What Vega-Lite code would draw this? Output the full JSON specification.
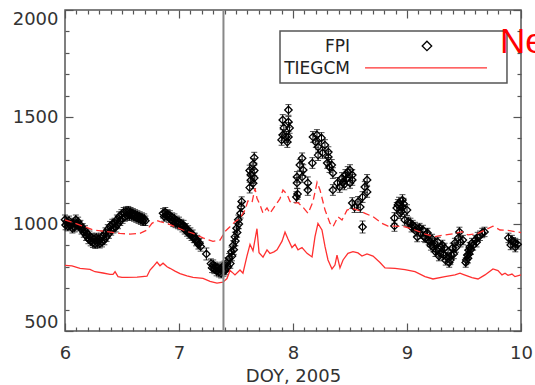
{
"$schema": "https://vega.github.io/schema/vega-lite/v6.json",
"width": 456, "height": 321,
"autosize": {"type": "none"},
"padding": {"left": 65, "top": 10, "right": 14, "bottom": 54},
"background": "white",
"config": {"view": {"stroke": "#555", "strokeWidth": 1.5}, "font": "DejaVu Sans"},
"datasets": {
"fpi": [
{"x":6.000,"y":1020,"e":22},{"x":6.005,"y":995,"e":22},{"x":6.015,"y":1010,"e":22},{"x":6.025,"y":990,"e":22},{"x":6.035,"y":1015,"e":22},{"x":6.045,"y":995,"e":22},{"x":6.055,"y":1000,"e":22},{"x":6.065,"y":980,"e":22},{"x":6.075,"y":1005,"e":22},{"x":6.085,"y":985,"e":22},{"x":6.095,"y":1020,"e":22},{"x":6.105,"y":1000,"e":22},{"x":6.115,"y":1010,"e":22},{"x":6.125,"y":990,"e":22},{"x":6.135,"y":995,"e":22},{"x":6.145,"y":975,"e":22},{"x":6.155,"y":980,"e":22},{"x":6.165,"y":960,"e":22},{"x":6.175,"y":970,"e":22},{"x":6.185,"y":945,"e":22},{"x":6.195,"y":955,"e":22},{"x":6.205,"y":930,"e":22},{"x":6.215,"y":945,"e":22},{"x":6.225,"y":920,"e":22},{"x":6.235,"y":935,"e":22},{"x":6.245,"y":912,"e":22},{"x":6.255,"y":930,"e":22},{"x":6.265,"y":908,"e":22},{"x":6.275,"y":935,"e":22},{"x":6.285,"y":912,"e":22},{"x":6.295,"y":930,"e":22},{"x":6.305,"y":910,"e":22},{"x":6.315,"y":935,"e":22},{"x":6.325,"y":915,"e":22},{"x":6.335,"y":945,"e":22},{"x":6.345,"y":925,"e":22},{"x":6.355,"y":960,"e":22},{"x":6.365,"y":940,"e":22},{"x":6.375,"y":975,"e":22},{"x":6.385,"y":955,"e":22},{"x":6.395,"y":990,"e":22},{"x":6.405,"y":970,"e":22},{"x":6.415,"y":1000,"e":22},{"x":6.425,"y":980,"e":22},{"x":6.435,"y":1005,"e":22},{"x":6.445,"y":985,"e":22},{"x":6.455,"y":1020,"e":22},{"x":6.465,"y":1000,"e":22},{"x":6.475,"y":1035,"e":22},{"x":6.485,"y":1015,"e":22},{"x":6.495,"y":1045,"e":22},{"x":6.505,"y":1025,"e":22},{"x":6.515,"y":1055,"e":22},{"x":6.525,"y":1035,"e":22},{"x":6.535,"y":1058,"e":22},{"x":6.545,"y":1040,"e":22},{"x":6.555,"y":1060,"e":22},{"x":6.565,"y":1040,"e":22},{"x":6.575,"y":1055,"e":22},{"x":6.585,"y":1040,"e":22},{"x":6.595,"y":1050,"e":22},{"x":6.605,"y":1035,"e":22},{"x":6.615,"y":1045,"e":22},{"x":6.625,"y":1030,"e":22},{"x":6.635,"y":1040,"e":22},{"x":6.645,"y":1025,"e":22},{"x":6.655,"y":1035,"e":22},{"x":6.665,"y":1020,"e":22},{"x":6.675,"y":1030,"e":22},{"x":6.685,"y":1015,"e":22},{"x":6.695,"y":1025,"e":22},{"x":6.705,"y":1015,"e":22},
{"x":6.860,"y":1050,"e":22},{"x":6.870,"y":1035,"e":22},{"x":6.880,"y":1055,"e":22},{"x":6.890,"y":1040,"e":22},{"x":6.900,"y":1045,"e":22},{"x":6.910,"y":1030,"e":22},{"x":6.920,"y":1040,"e":22},{"x":6.930,"y":1020,"e":22},{"x":6.940,"y":1030,"e":22},{"x":6.950,"y":1010,"e":22},{"x":6.960,"y":1025,"e":22},{"x":6.970,"y":1005,"e":22},{"x":6.980,"y":1015,"e":22},{"x":6.990,"y":1000,"e":22},{"x":7.000,"y":1010,"e":22},{"x":7.010,"y":995,"e":22},{"x":7.020,"y":1000,"e":22},{"x":7.030,"y":985,"e":22},{"x":7.040,"y":995,"e":22},{"x":7.050,"y":975,"e":22},{"x":7.060,"y":980,"e":22},{"x":7.070,"y":965,"e":22},{"x":7.080,"y":970,"e":22},{"x":7.090,"y":955,"e":22},{"x":7.100,"y":960,"e":22},{"x":7.110,"y":945,"e":22},{"x":7.120,"y":950,"e":22},{"x":7.130,"y":935,"e":22},{"x":7.140,"y":935,"e":22},{"x":7.150,"y":920,"e":22},{"x":7.160,"y":925,"e":22},{"x":7.170,"y":905,"e":22},{"x":7.180,"y":910,"e":22},{"x":7.190,"y":895,"e":22},
{"x":7.240,"y":860,"e":28},
{"x":7.280,"y":815,"e":22},{"x":7.290,"y":795,"e":22},{"x":7.300,"y":810,"e":22},{"x":7.310,"y":790,"e":22},{"x":7.320,"y":800,"e":22},{"x":7.330,"y":780,"e":22},{"x":7.340,"y":795,"e":22},{"x":7.350,"y":775,"e":22},{"x":7.360,"y":790,"e":22},{"x":7.370,"y":770,"e":22},{"x":7.380,"y":800,"e":22},{"x":7.390,"y":778,"e":22},{"x":7.400,"y":805,"e":22},{"x":7.410,"y":785,"e":22},{"x":7.420,"y":820,"e":22},{"x":7.430,"y":800,"e":22},{"x":7.440,"y":840,"e":22},{"x":7.450,"y":815,"e":22},{"x":7.460,"y":870,"e":22},{"x":7.465,"y":850,"e":22},{"x":7.475,"y":900,"e":22},{"x":7.480,"y":880,"e":22},{"x":7.490,"y":940,"e":22},{"x":7.495,"y":920,"e":22},{"x":7.505,"y":980,"e":22},{"x":7.510,"y":960,"e":22},{"x":7.520,"y":1020,"e":22},{"x":7.525,"y":1000,"e":22},{"x":7.540,"y":1050,"e":22},{"x":7.545,"y":1080,"e":22},{"x":7.550,"y":1105,"e":22},
{"x":7.66,"y":1310,"e":25},{"x":7.65,"y":1280,"e":25},{"x":7.62,"y":1250,"e":25},{"x":7.66,"y":1250,"e":25},{"x":7.63,"y":1230,"e":25},{"x":7.66,"y":1215,"e":25},{"x":7.63,"y":1205,"e":25},{"x":7.65,"y":1190,"e":25},{"x":7.62,"y":1170,"e":25},
{"x":7.96,"y":1533,"e":25},{"x":7.91,"y":1486,"e":25},{"x":7.96,"y":1477,"e":25},{"x":7.92,"y":1449,"e":25},{"x":7.97,"y":1449,"e":25},{"x":7.91,"y":1416,"e":25},{"x":7.94,"y":1407,"e":25},{"x":7.96,"y":1407,"e":25},{"x":7.90,"y":1393,"e":25},{"x":7.95,"y":1383,"e":25},
{"x":8.08,"y":1307,"e":25},{"x":8.06,"y":1276,"e":25},{"x":8.09,"y":1252,"e":25},{"x":8.035,"y":1220,"e":25},{"x":8.08,"y":1220,"e":25},{"x":8.035,"y":1192,"e":25},{"x":8.04,"y":1140,"e":25},{"x":8.03,"y":1126,"e":25},{"x":8.13,"y":1192,"e":28},{"x":8.13,"y":1159,"e":25},
{"x":8.175,"y":1407,"e":25},{"x":8.21,"y":1416,"e":25},{"x":8.25,"y":1402,"e":25},{"x":8.20,"y":1383,"e":25},{"x":8.28,"y":1369,"e":25},{"x":8.22,"y":1360,"e":25},{"x":8.31,"y":1336,"e":25},{"x":8.26,"y":1332,"e":25},{"x":8.22,"y":1322,"e":25},{"x":8.31,"y":1313,"e":25},{"x":8.30,"y":1285,"e":25},{"x":8.17,"y":1285,"e":25},{"x":8.32,"y":1266,"e":25},{"x":8.34,"y":1276,"e":25},{"x":8.35,"y":1238,"e":25},{"x":8.35,"y":1159,"e":25},
{"x":8.39,"y":1192,"e":25},{"x":8.41,"y":1173,"e":25},{"x":8.43,"y":1215,"e":25},{"x":8.44,"y":1196,"e":25},{"x":8.46,"y":1229,"e":25},{"x":8.48,"y":1243,"e":25},{"x":8.50,"y":1252,"e":25},{"x":8.52,"y":1229,"e":25},{"x":8.52,"y":1206,"e":25},{"x":8.50,"y":1192,"e":25},{"x":8.47,"y":1210,"e":25},{"x":8.45,"y":1185,"e":25},
{"x":8.52,"y":1098,"e":25},{"x":8.54,"y":1079,"e":25},{"x":8.57,"y":1103,"e":25},{"x":8.59,"y":1079,"e":25},{"x":8.61,"y":1126,"e":25},{"x":8.63,"y":1173,"e":25},{"x":8.65,"y":1150,"e":25},{"x":8.65,"y":1206,"e":25},{"x":8.61,"y":986,"e":28},
{"x":8.96,"y":1112,"e":25},{"x":8.92,"y":1089,"e":25},{"x":8.96,"y":1079,"e":25},{"x":9.00,"y":1065,"e":25},{"x":8.91,"y":1075,"e":25},{"x":8.94,"y":1051,"e":25},{"x":8.89,"y":1028,"e":25},{"x":8.89,"y":991,"e":25},{"x":8.98,"y":1019,"e":25},{"x":8.93,"y":1100,"e":25},{"x":8.97,"y":1095,"e":25},{"x":8.95,"y":1060,"e":25},
{"x":9.01,"y":1010,"e":22},{"x":9.03,"y":1005,"e":22},{"x":9.04,"y":985,"e":22},{"x":9.05,"y":995,"e":22},{"x":9.07,"y":986,"e":22},{"x":9.08,"y":965,"e":22},{"x":9.09,"y":939,"e":22},{"x":9.10,"y":975,"e":22},{"x":9.11,"y":981,"e":22},{"x":9.12,"y":955,"e":22},{"x":9.14,"y":972,"e":22},{"x":9.15,"y":940,"e":22},{"x":9.16,"y":935,"e":22},{"x":9.17,"y":955,"e":22},{"x":9.18,"y":958,"e":22},{"x":9.19,"y":925,"e":22},{"x":9.20,"y":916,"e":22},{"x":9.21,"y":900,"e":22},{"x":9.22,"y":930,"e":22},{"x":9.23,"y":892,"e":22},{"x":9.24,"y":910,"e":22},{"x":9.25,"y":870,"e":22},{"x":9.26,"y":878,"e":22},{"x":9.27,"y":916,"e":22},{"x":9.28,"y":850,"e":22},{"x":9.29,"y":864,"e":22},{"x":9.30,"y":890,"e":22},{"x":9.31,"y":902,"e":22},{"x":9.32,"y":855,"e":22},{"x":9.33,"y":888,"e":22},{"x":9.34,"y":830,"e":22},{"x":9.35,"y":846,"e":22},{"x":9.36,"y":870,"e":22},{"x":9.37,"y":820,"e":22},{"x":9.38,"y":832,"e":22},{"x":9.39,"y":855,"e":22},{"x":9.40,"y":888,"e":22},{"x":9.41,"y":860,"e":22},{"x":9.42,"y":911,"e":22},{"x":9.43,"y":890,"e":22},{"x":9.45,"y":935,"e":22},{"x":9.46,"y":963,"e":22},{"x":9.47,"y":915,"e":22},{"x":9.49,"y":925,"e":22},
{"x":9.515,"y":820,"e":22},{"x":9.52,"y":832,"e":22},{"x":9.53,"y":855,"e":22},{"x":9.535,"y":840,"e":22},{"x":9.54,"y":878,"e":22},{"x":9.545,"y":860,"e":22},{"x":9.55,"y":892,"e":22},{"x":9.56,"y":880,"e":22},{"x":9.57,"y":911,"e":22},{"x":9.58,"y":900,"e":22},{"x":9.60,"y":925,"e":22},{"x":9.61,"y":915,"e":22},{"x":9.62,"y":939,"e":22},{"x":9.64,"y":945,"e":22},{"x":9.66,"y":958,"e":22},{"x":9.68,"y":963,"e":22},
{"x":9.89,"y":935,"e":22},{"x":9.91,"y":902,"e":22},{"x":9.92,"y":925,"e":22},{"x":9.93,"y":915,"e":22},{"x":9.95,"y":911,"e":22},{"x":9.95,"y":892,"e":22},{"x":9.97,"y":905,"e":22}
],
"tie": [
{"x":6.000,"y":807},{"x":6.061,"y":804},{"x":6.132,"y":793},{"x":6.219,"y":788},{"x":6.263,"y":777},{"x":6.333,"y":771},{"x":6.395,"y":765},{"x":6.421,"y":765},{"x":6.439,"y":777},{"x":6.465,"y":754},{"x":6.500,"y":751},{"x":6.544,"y":751},{"x":6.632,"y":752},{"x":6.719,"y":756},{"x":6.746,"y":785},{"x":6.772,"y":800},{"x":6.807,"y":822},{"x":6.833,"y":805},{"x":6.860,"y":817},{"x":6.895,"y":800},{"x":6.921,"y":793},{"x":6.965,"y":780},{"x":7.009,"y":768},{"x":7.070,"y":758},{"x":7.123,"y":751},{"x":7.211,"y":746},{"x":7.272,"y":732},{"x":7.333,"y":724},{"x":7.386,"y":728},{"x":7.421,"y":745},{"x":7.447,"y":783},{"x":7.465,"y":775},{"x":7.491,"y":762},{"x":7.535,"y":785},{"x":7.561,"y":770},{"x":7.596,"y":850},{"x":7.623,"y":905},{"x":7.649,"y":875},{"x":7.684,"y":978},{"x":7.702,"y":866},{"x":7.737,"y":845},{"x":7.772,"y":879},{"x":7.798,"y":862},{"x":7.833,"y":870},{"x":7.860,"y":879},{"x":7.904,"y":920},{"x":7.930,"y":962},{"x":7.956,"y":930},{"x":7.991,"y":890},{"x":8.018,"y":905},{"x":8.044,"y":879},{"x":8.079,"y":890},{"x":8.123,"y":863},{"x":8.167,"y":846},{"x":8.193,"y":941},{"x":8.219,"y":1003},{"x":8.254,"y":972},{"x":8.281,"y":894},{"x":8.307,"y":832},{"x":8.342,"y":790},{"x":8.368,"y":808},{"x":8.386,"y":855},{"x":8.412,"y":795},{"x":8.439,"y":832},{"x":8.482,"y":863},{"x":8.526,"y":871},{"x":8.570,"y":865},{"x":8.605,"y":850},{"x":8.649,"y":860},{"x":8.702,"y":850},{"x":8.763,"y":820},{"x":8.807,"y":795},{"x":8.895,"y":793},{"x":8.982,"y":787},{"x":9.070,"y":777},{"x":9.158,"y":754},{"x":9.228,"y":743},{"x":9.333,"y":754},{"x":9.421,"y":762},{"x":9.465,"y":770},{"x":9.491,"y":765},{"x":9.570,"y":749},{"x":9.623,"y":743},{"x":9.684,"y":762},{"x":9.754,"y":790},{"x":9.798,"y":782},{"x":9.833,"y":762},{"x":9.860,"y":770},{"x":9.886,"y":760},{"x":9.921,"y":766},{"x":9.947,"y":754},{"x":10.0,"y":762}
],
"dash": [
{"x":6.000,"y":1019},{"x":6.132,"y":995},{"x":6.246,"y":972},{"x":6.368,"y":965},{"x":6.482,"y":956},{"x":6.570,"y":953},{"x":6.658,"y":956},{"x":6.719,"y":972},{"x":6.763,"y":1003},{"x":6.807,"y":1016},{"x":6.833,"y":1011},{"x":6.895,"y":1003},{"x":6.965,"y":987},{"x":7.035,"y":972},{"x":7.123,"y":956},{"x":7.211,"y":935},{"x":7.298,"y":919},{"x":7.360,"y":925},{"x":7.404,"y":965},{"x":7.447,"y":987},{"x":7.491,"y":1011},{"x":7.535,"y":1026},{"x":7.579,"y":1065},{"x":7.605,"y":1108},{"x":7.640,"y":1100},{"x":7.667,"y":1167},{"x":7.684,"y":1120},{"x":7.711,"y":1089},{"x":7.737,"y":1050},{"x":7.772,"y":1075},{"x":7.798,"y":1050},{"x":7.842,"y":1085},{"x":7.886,"y":1118},{"x":7.912,"y":1159},{"x":7.947,"y":1140},{"x":7.974,"y":1105},{"x":8.0,"y":1096},{"x":8.044,"y":1100},{"x":8.088,"y":1078},{"x":8.132,"y":1050},{"x":8.175,"y":1104},{"x":8.211,"y":1195},{"x":8.237,"y":1159},{"x":8.281,"y":1065},{"x":8.325,"y":1003},{"x":8.351,"y":987},{"x":8.395,"y":1034},{"x":8.430,"y":1019},{"x":8.474,"y":1065},{"x":8.518,"y":1073},{"x":8.570,"y":1065},{"x":8.632,"y":1050},{"x":8.702,"y":1034},{"x":8.781,"y":1003},{"x":8.833,"y":990},{"x":8.895,"y":990},{"x":8.982,"y":987},{"x":9.070,"y":972},{"x":9.158,"y":953},{"x":9.246,"y":941},{"x":9.333,"y":949},{"x":9.421,"y":956},{"x":9.482,"y":964},{"x":9.535,"y":949},{"x":9.623,"y":956},{"x":9.684,"y":972},{"x":9.754,"y":990},{"x":9.816,"y":972},{"x":9.886,"y":970},{"x":9.947,"y":964},{"x":10.0,"y":960}
]
},
"layer": [
{
"data": {"name": "fpi"},
"mark": {"type": "errorbar", "orient": "vertical", "ticks": true, "color": "#000", "thickness": 1, "size": 6},
"encoding": {
"x": {"field": "x", "type": "quantitative", "scale": {"domain": [6, 10], "nice": false, "zero": false}, "axis": null},
"y": {"field": "y", "type": "quantitative", "scale": {"domain": [500, 2000], "nice": false, "zero": false}, "axis": null},
"yError": {"field": "e"}
}
},
{
"data": {"name": "fpi"},
"mark": {"type": "point", "shape": "diamond", "size": 55, "filled": false, "stroke": "#000", "strokeWidth": 1.3, "opacity": 1},
"encoding": {
"x": {"field": "x", "type": "quantitative", "scale": {"domain": [6, 10], "nice": false, "zero": false},
"axis": {"orient": "bottom", "values": [6, 7, 8, 9, 10], "format": "d",
"tickSize": -8, "tickColor": "#555", "tickWidth": 1.2, "domain": false, "grid": false,
"labelFont": "DejaVu Sans", "labelFontSize": 18, "labelColor": "#333", "labelPadding": 21, "labelFlush": false, "labelOverlap": false, "labelBound": false,
"title": "DOY, 2005", "titleFont": "DejaVu Sans", "titleFontSize": 18, "titleFontWeight": "normal", "titleColor": "#333", "titlePadding": 5}},
"y": {"field": "y", "type": "quantitative", "scale": {"domain": [500, 2000], "nice": false, "zero": false},
"axis": {"orient": "left", "values": [500, 1000, 1500, 2000], "format": "d",
"tickSize": -8, "tickColor": "#555", "tickWidth": 1.2, "domain": false, "grid": false,
"labelFont": "DejaVu Sans", "labelFontSize": 18, "labelColor": "#333", "labelPadding": 15, "labelFlush": true, "labelOverlap": false, "labelBound": false,
"title": null}}
}
},
{
"data": {"name": "tie"},
"mark": {"type": "line", "color": "#ff3030", "strokeWidth": 1.3},
"encoding": {
"x": {"field": "x", "type": "quantitative",
"axis": {"orient": "bottom", "values": [6.1,6.2,6.3,6.4,6.5,6.6,6.7,6.8,6.9,7.1,7.2,7.3,7.4,7.5,7.6,7.7,7.8,7.9,8.1,8.2,8.3,8.4,8.5,8.6,8.7,8.8,8.9,9.1,9.2,9.3,9.4,9.5,9.6,9.7,9.8,9.9],
"labels": false, "tickSize": -4, "tickColor": "#555", "tickWidth": 1.2, "domain": false, "grid": false, "title": null}},
"y": {"field": "y", "type": "quantitative",
"axis": {"orient": "left", "values": [600,700,800,900,1100,1200,1300,1400,1600,1700,1800,1900],
"labels": false, "tickSize": -4, "tickColor": "#555", "tickWidth": 1.2, "domain": false, "grid": false, "title": null}}
}
},
{
"data": {"name": "dash"},
"mark": {"type": "line", "color": "#ff3030", "strokeWidth": 1.3, "strokeDash": [7, 4]},
"encoding": {
"x": {"field": "x", "type": "quantitative",
"axis": {"orient": "top", "values": [6, 7, 8, 9, 10],
"labels": false, "tickSize": -8, "tickColor": "#555", "tickWidth": 1.2, "domain": false, "grid": false, "title": null}},
"y": {"field": "y", "type": "quantitative",
"axis": {"orient": "right", "values": [500, 1000, 1500, 2000],
"labels": false, "tickSize": -8, "tickColor": "#555", "tickWidth": 1.2, "domain": false, "grid": false, "title": null}}
}
},
{
"data": {"values": [{}]},
"mark": {"type": "rect", "filled": false, "stroke": "#555", "strokeWidth": 1.5},
"encoding": {
"x": {"datum": 7.886, "type": "quantitative",
"axis": {"orient": "top", "values": [6.1,6.2,6.3,6.4,6.5,6.6,6.7,6.8,6.9,7.1,7.2,7.3,7.4,7.5,7.6,7.7,7.8,7.9,8.1,8.2,8.3,8.4,8.5,8.6,8.7,8.8,8.9,9.1,9.2,9.3,9.4,9.5,9.6,9.7,9.8,9.9],
"labels": false, "tickSize": -4, "tickColor": "#555", "tickWidth": 1.2, "domain": false, "grid": false, "title": null}},
"x2": {"datum": 9.877},
"y": {"datum": 1659, "type": "quantitative",
"axis": {"orient": "right", "values": [600,700,800,900,1100,1200,1300,1400,1600,1700,1800,1900],
"labels": false, "tickSize": -4, "tickColor": "#555", "tickWidth": 1.2, "domain": false, "grid": false, "title": null}},
"y2": {"datum": 1902}
}
},
{
"data": {"values": [{}]},
"mark": {"type": "text", "text": "FPI", "font": "DejaVu Sans", "fontSize": 17, "color": "#222", "align": "right", "baseline": "alphabetic"},
"encoding": {
"x": {"datum": 8.5, "type": "quantitative", "axis": null},
"y": {"datum": 1804, "type": "quantitative", "axis": null}
}
},
{
"data": {"values": [{}]},
"mark": {"type": "text", "text": "TIEGCM", "font": "DejaVu Sans", "fontSize": 17, "color": "#222", "align": "right", "baseline": "alphabetic"},
"encoding": {
"x": {"datum": 8.5, "type": "quantitative", "axis": null},
"y": {"datum": 1701, "type": "quantitative", "axis": null}
}
},
{
"data": {"values": [{}]},
"mark": {"type": "point", "shape": "diamond", "size": 90, "filled": false, "stroke": "#000", "strokeWidth": 1.3, "opacity": 1},
"encoding": {
"x": {"datum": 9.175, "type": "quantitative", "axis": null},
"y": {"datum": 1832, "type": "quantitative", "axis": null}
}
},
{
"data": {"values": [{}]},
"mark": {"type": "rule", "color": "#ff3030", "strokeWidth": 1.3},
"encoding": {
"x": {"datum": 8.632, "type": "quantitative", "axis": null},
"x2": {"datum": 9.702},
"y": {"datum": 1730, "type": "quantitative", "axis": null}
}
},
{
"data": {"values": [{}]},
"mark": {"type": "text", "text": "Ne", "font": "Liberation Sans", "fontSize": 35, "color": "#ff0000", "align": "left", "baseline": "alphabetic"},
"encoding": {
"x": {"datum": 9.816, "type": "quantitative", "axis": null},
"y": {"datum": 1799, "type": "quantitative", "axis": null}
}
},
{
"data": {"values": [{}]},
"mark": {"type": "rule", "color": "#888", "strokeWidth": 2},
"encoding": {
"x": {"datum": 7.39, "type": "quantitative", "axis": null},
"y": {"datum": 500, "type": "quantitative", "axis": null},
"y2": {"datum": 2000}
}
}
],
"resolve": {"axis": {"x": "independent", "y": "independent"}}
}
